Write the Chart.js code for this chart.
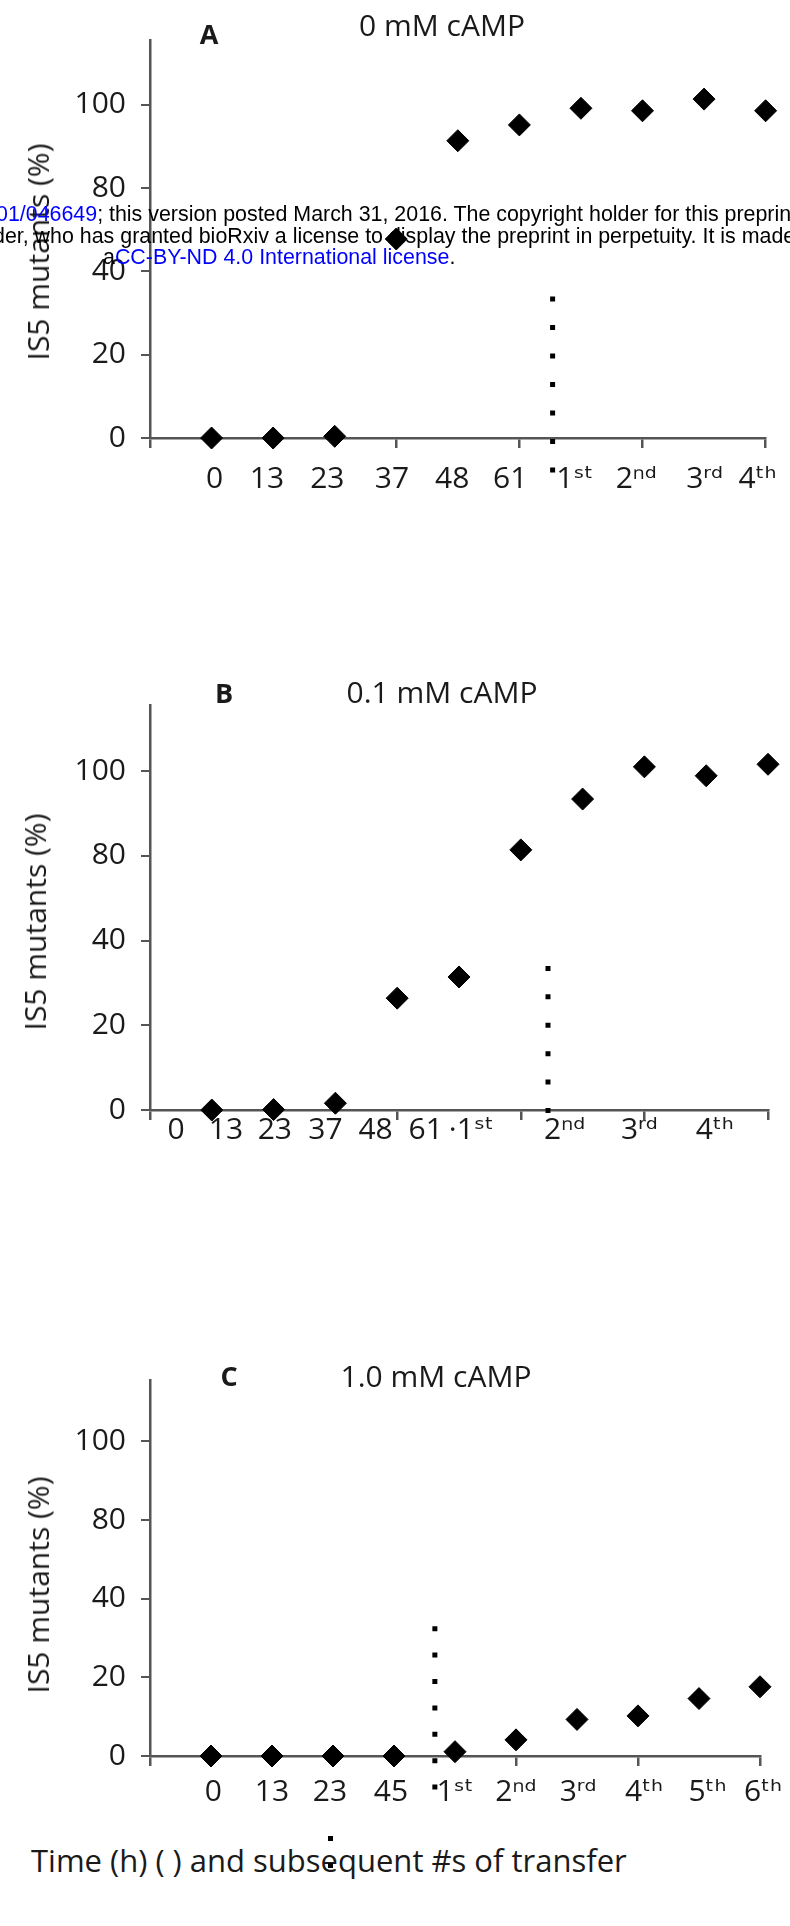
<!DOCTYPE html>
<html>
<head>
<meta charset="utf-8">
<script src="https://cdn.jsdelivr.net/npm/chart.js@4.4.0/dist/chart.umd.min.js"></script>
<style>
  html, body { margin: 0; padding: 0; background: #fff; }
  body { width: 790px; height: 1926px; position: relative; overflow: hidden; font-family: 'Open Sans', 'DejaVu Sans', sans-serif; color: #1a1a1a; }
  canvas { position: absolute; left: 0; }
  .txt { position: absolute; white-space: nowrap; line-height: 1; transform: translate(-50%, -50%); }
  .title { font-size: 30px; }
  .letter { font-size: 27px; font-weight: bold; }
  .ytitle { font-size: 30px; transform: translate(-50%, -50%) rotate(-90deg); }
  .xtitle { position: absolute; left: 31px; top: 1842px; font-size: 31px; line-height: 1.2; white-space: nowrap; }
  .wm { position: absolute; font-family: 'Liberation Sans', Arial, sans-serif; font-size: 21.4px; line-height: 1; white-space: nowrap; color: #000; z-index: 5; }
  .wm .blue { color: #0000ff; }
  .dot { position: absolute; width: 5px; height: 5px; background: #000; }
</style>
</head>
<body>

<canvas id="chartA" width="790" height="520" style="top:0px"></canvas>
<canvas id="chartB" width="790" height="540" style="top:640px"></canvas>
<canvas id="chartC" width="790" height="490" style="top:1340px"></canvas>

<!-- titres des panneaux -->
<div class="txt letter" style="left:209px; top:33px">A</div>
<div class="txt title" style="left:442px; top:25px">0 mM cAMP</div>
<div class="txt ytitle" style="left:38px; top:252px">IS5 mutants (%)</div>

<div class="txt letter" style="left:224px; top:692px">B</div>
<div class="txt title" style="left:442px; top:692px">0.1 mM cAMP</div>
<div class="txt ytitle" style="left:35px; top:922px">IS5 mutants (%)</div>

<div class="txt letter" style="left:229px; top:1375px">C</div>
<div class="txt title" style="left:436px; top:1376px">1.0 mM cAMP</div>
<div class="txt ytitle" style="left:38px; top:1585px">IS5 mutants (%)</div>

<div class="xtitle">Time (h) ( ) and subsequent #s of transfer</div>
<div class="dot" style="left:328px; top:1836px"></div>
<div class="dot" style="left:328px; top:1863px"></div>

<!-- filigrane bioRxiv -->
<div class="wm" style="left:-4px; top:204px"><span class="blue">01/046649</span>; this version posted March 31, 2016. The copyright holder for this preprint (which was not</div>
<div class="wm" style="left:-7px; top:226px">der, who has granted bioRxiv a license to display the preprint in perpetuity. It is made available under</div>
<div class="wm" style="left:103px; top:247px">a<span class="blue">CC-BY-ND 4.0 International license</span>.</div>

<script>
// Axe Y "cassé" : les graduations 0,20,40,80,100 sont espacées régulièrement
const yTickValues = [0, 20, 40, 80, 100];
const yTickLabels = ['0', '20', '40', '80', '100'];

// Graduations de l'axe X (petits traits)
const xMarkTicks = [0, 2, 4, 6, 8, 10];

// Panneau A : 0 mM cAMP
const labelsA = ['0', '13', '23', '37', '48', '61', '1ˢᵗ', '2ⁿᵈ', '3ʳᵈ', '4ᵗʰ'];
const mutantsA = [0, 0, 0.4, 55.6, 91.4, 95.2, 99.2, 98.6, 101.4, 98.6];
const transferA = [34, -9];

// Panneau B : 0.1 mM cAMP
const labelsB = ['0', '13', '23', '37', '48', '61', '·1ˢᵗ', '2ⁿᵈ', '3ʳᵈ', '4ᵗʰ'];
const mutantsB = [0, 0.1, 1.6, 26.4, 31.4, 81.4, 93.4, 101, 98.9, 101.6];
const transferB = [34, -1.2];

// Panneau C : 1.0 mM cAMP
const labelsC = ['0', '13', '23', '45', '1ˢᵗ', '2ⁿᵈ', '3ʳᵈ', '4ᵗʰ', '5ᵗʰ', '6ᵗʰ'];
const mutantsC = [0, 0, 0, 0, 1.1, 4.1, 9.3, 10.2, 14.6, 17.6];
const transferC = [33, -8.5];

const axisColor = '#555';
const textColor = '#1a1a1a';
const fontFamily = "'Open Sans', 'DejaVu Sans', sans-serif";

// conversion valeur (%) -> position sur l'axe cassé
function toSlot(v) {
    let i = 0;
    if (v > yTickValues[1]) {
        i = yTickValues.length - 2;
        for (let k = 0; k < yTickValues.length - 1; k++) {
            if (v <= yTickValues[k + 1]) { i = k; break; }
        }
    }
    const a = yTickValues[i], b = yTickValues[i + 1];
    return i + (v - a) / (b - a);
}

function makePanel(id, p) {
    const points = p.values.map(function (v, i) { return { x: i + 1, y: toSlot(v) }; });
    const transfer = p.transfer.map(function (v) { return { x: p.transferX, y: toSlot(v) }; });

    return new Chart(document.getElementById(id), {
        data: {
            datasets: [{
                type: 'line',
                data: transfer,
                borderColor: '#000',
                borderWidth: 5,
                borderDash: [5, p.dashGap],
                pointRadius: 0,
                clip: false
            }, {
                type: 'scatter',
                data: points,
                pointStyle: 'rectRot',
                pointRadius: 11,
                backgroundColor: '#000',
                borderColor: '#000',
                borderWidth: 1,
                clip: false
            }]
        },
        options: {
            responsive: false,
            animation: false,
            devicePixelRatio: 1,
            layout: { padding: { left: 0, right: 22, top: p.padTop, bottom: 0 } },
            plugins: { legend: { display: false }, tooltip: { enabled: false } },
            scales: {
                x: {
                    type: 'linear', min: 0, max: 10, position: 'bottom', weight: 0,
                    afterBuildTicks: function (s) { s.ticks = xMarkTicks.map(function (v) { return { value: v }; }); },
                    afterFit: function (s) { s.height = p.markH; },
                    ticks: { display: false },
                    grid: { drawOnChartArea: false, drawTicks: true, tickLength: 10, color: axisColor, lineWidth: 2.5 },
                    border: { display: true, color: axisColor, width: 2.5 }
                },
                xl: {
                    type: 'linear', min: 0, max: 10, position: 'bottom', weight: 1,
                    afterBuildTicks: function (s) { s.ticks = p.labelSlots.map(function (v) { return { value: v }; }); },
                    afterFit: function (s) { s.height = p.labelH; },
                    ticks: {
                        autoSkip: false, maxRotation: 0, padding: p.labelPad, color: textColor,
                        font: { family: fontFamily, size: 30 },
                        callback: function (v, i) { return p.labels[i]; }
                    },
                    grid: { display: false, drawTicks: false },
                    border: { display: false }
                },
                y: {
                    type: 'linear', min: 0, max: 4.78,
                    afterBuildTicks: function (s) { s.ticks = yTickValues.map(function (v, i) { return { value: i }; }); },
                    afterFit: function (s) { s.width = 150; },
                    ticks: {
                        padding: 15, color: textColor,
                        font: { family: fontFamily, size: 30 },
                        callback: function (v) { return yTickLabels[v]; }
                    },
                    grid: { drawOnChartArea: false, drawTicks: true, tickLength: 9, color: axisColor, lineWidth: 2 },
                    border: { display: true, color: axisColor, width: 2.5 }
                }
            }
        }
    });
}

makePanel('chartA', {
    values: mutantsA, labels: labelsA, transfer: transferA, transferX: 6.54, dashGap: 23.5,
    labelSlots: [1.05, 1.90, 2.88, 3.93, 4.91, 5.85, 6.90, 7.90, 9.01, 9.87],
    padTop: 40, markH: 10, labelH: 72, labelPad: 13
});
makePanel('chartB', {
    values: mutantsB, labels: labelsB, transfer: transferB, transferX: 6.44, dashGap: 23.4,
    labelSlots: [0.42, 1.23, 2.02, 2.84, 3.65, 4.46, 5.2, 6.71, 7.92, 9.14],
    padTop: 65, markH: 0, labelH: 70, labelPad: 2
});
makePanel('chartC', {
    values: mutantsC, labels: labelsC, transfer: transferC, transferX: 4.67, dashGap: 21.4,
    labelSlots: [1.04, 2.0, 2.95, 3.95, 5.0, 6.0, 7.02, 8.1, 9.14, 10.05],
    padTop: 40, markH: 10, labelH: 64, labelPad: 8
});
</script>
</body>
</html>
